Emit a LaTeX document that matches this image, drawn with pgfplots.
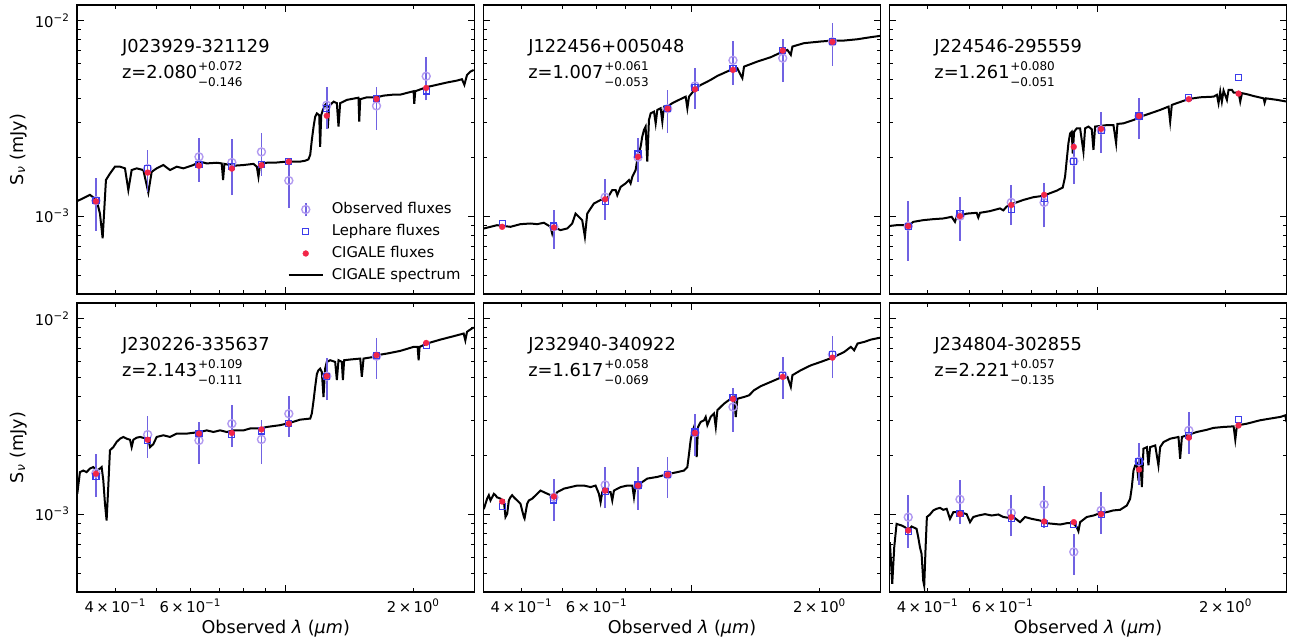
\documentclass[border=0pt]{standalone}
\usepackage{fontspec}
\setmainfont{DejaVu Sans}
\usepackage{pgfplots}
\pgfplotsset{compat=1.18}
\definecolor{obscol}{RGB}{178,155,240}
\definecolor{errcol}{RGB}{112,98,226}
\definecolor{lepcol}{RGB}{60,60,235}
\definecolor{cigcol}{RGB}{242,38,72}
\pgfdeclareplotmark{obsmark}{%
 \pgfsetstrokecolor{errcol}\pgfsetlinewidth{0.8pt}%
 \pgfpathmoveto{\pgfqpoint{0pt}{-3.4pt}}\pgfpathlineto{\pgfqpoint{0pt}{3.4pt}}\pgfusepathqstroke
 \pgfsetstrokecolor{obscol}\pgfsetlinewidth{0.7pt}%
 \pgfpathcircle{\pgfpointorigin}{2pt}\pgfusepathqstroke}
\newcommand{\tickfont}{\fontsize{7.4}{8}\selectfont}
\newcommand{\labfont}{\fontsize{8.8}{10}\selectfont}
\newcommand{\txtfont}{\fontsize{8.9}{10}\selectfont}
\newcommand{\sups}[2]{\kern0.4pt\raisebox{-4.3pt}{\fontsize{6.0}{8.1}\selectfont\begin{tabular}[b]{@{}l@{}}#1\\#2\end{tabular}}}
\begin{document}
\begin{tikzpicture}
\path[use as bounding box] (0,0) rectangle (649pt,320.5pt);

% ---------------- Panel 1
\begin{axis}[xmode=log, ymode=log, scale only axis, width=198.75pt, height=144.5pt,
  at={(38.5pt,173.5pt)}, anchor=south west,
  xmin=0.325, xmax=2.78, ymin=4e-4, ymax=1.2e-2,
  xtick={1}, xticklabels={}, minor xtick={0.4,0.5,0.6,0.7,0.8,0.9,2},
  ytick={1e-3,1e-2}, yticklabels={10\textsuperscript{−3},10\textsuperscript{−2}},
  minor ytick={4e-4,5e-4,6e-4,7e-4,8e-4,9e-4,2e-3,3e-3,4e-3,5e-3,6e-3,7e-3,8e-3,9e-3},
  tick align=inside, major tick length=3.5pt, minor tick length=2pt,
  tick style={black, line width=0.5pt}, axis line style={line width=0.6pt},
  tick label style={font=\tickfont}, unbounded coords=jump,
  ylabel={S\textsubscript{\textit{ν}} (mJy)},
  ylabel style={at={(axis description cs:-0.148,0.5)}, anchor=center, font=\labfont},
  legend style={at={(0.529,0.318)}, anchor=north west, draw=none, fill=none, inner sep=0pt,
    font=\fontsize{7.4}{9}\selectfont, nodes={inner sep=0pt, text height=5.5pt, text depth=1.5pt},
    row sep=4pt, column sep=4pt},
  legend cell align=left]
\addplot[black, line width=1pt, forget plot] coordinates {(0.3243,1.19e-3) (0.3362,1.235e-3) (0.3485,1.285e-3) (0.3613,1.21e-3) (0.3679,1.03e-3) (0.3733,0.77e-3) (0.3800,1.53e-3) (0.3883,1.65e-3) (0.3990,1.79e-3) (0.4100,1.79e-3) (0.4211,1.755e-3) (0.4288,1.36e-3) (0.4366,1.72e-3) (0.4486,1.755e-3) (0.4650,1.72e-3) (0.4777,1.32e-3) (0.4864,1.685e-3) (0.4997,1.755e-3) (0.5182,1.825e-3) (0.5370,1.72e-3) (0.5567,1.79e-3) (0.5772,1.755e-3) (0.6091,1.825e-3) (0.6316,1.90e-3) (0.6549,1.86e-3) (0.6913,1.875e-3) (0.7101,1.86e-3) (0.7153,1.53e-3) (0.7204,1.85e-3) (0.7563,1.81e-3) (0.7985,1.825e-3) (0.8427,1.85e-3) (0.8581,1.79e-3) (0.8658,1.59e-3) (0.8737,1.85e-3) (0.9057,1.875e-3) (0.9559,1.88e-3) (1.009,1.90e-3) (1.084,1.90e-3) (1.114,1.92e-3) (1.134,1.95e-3) (1.145,2.06e-3) (1.155,2.45e-3) (1.166,2.87e-3) (1.176,3.22e-3) (1.187,3.35e-3) (1.202,3.28e-3) (1.208,2.26e-3) (1.215,3.28e-3) (1.226,3.49e-3) (1.241,3.70e-3) (1.252,3.78e-3) (1.259,2.81e-3) (1.268,3.66e-3) (1.299,3.85e-3) (1.322,3.78e-3) (1.334,2.87e-3) (1.346,3.78e-3) (1.396,3.93e-3) (1.486,4.03e-3) (1.492,3.04e-3) (1.500,3.96e-3) (1.555,4.05e-3) (1.641,4.05e-3) (1.701,4.13e-3) (1.796,4.18e-3) (1.862,4.18e-3) (2.001,4.35e-3) (2.008,3.75e-3) (2.019,4.35e-3) (2.151,4.57e-3) (2.229,4.65e-3) (2.396,4.82e-3) (2.529,4.93e-3) (2.598,5.01e-3) (2.632,4.69e-3) (2.670,5.27e-3) (2.719,5.48e-3) (2.768,5.59e-3)};
\addplot[errcol, line width=0.8pt, forget plot] coordinates {(0.360,0.84e-3) (0.360,1.56e-3) (0.360,nan) (0.476,1.33e-3) (0.476,2.17e-3) (0.476,nan) (0.628,1.50e-3) (0.628,2.52e-3) (0.628,nan) (0.750,1.28e-3) (0.750,2.48e-3) (0.750,nan) (0.880,1.61e-3) (0.880,2.65e-3) (0.880,nan) (1.020,1.10e-3) (1.020,1.94e-3) (1.020,nan) (1.252,2.79e-3) (1.252,4.59e-3) (1.252,nan) (1.638,2.76e-3) (1.638,4.56e-3) (1.638,nan) (2.142,3.91e-3) (2.142,6.47e-3)};
\addplot[only marks, mark=obsmark, obscol] coordinates {(0.360,1.20e-3) (0.476,1.75e-3) (0.628,2.01e-3) (0.750,1.88e-3) (0.880,2.13e-3) (1.020,1.52e-3) (1.252,3.69e-3) (1.638,3.66e-3) (2.142,5.19e-3)};
\addlegendentry{Observed fluxes}
\addplot[only marks, mark=square, mark size=1.5pt, lepcol, mark options={line width=0.6pt}] coordinates {(0.360,1.20e-3) (0.476,1.75e-3) (0.628,1.84e-3) (0.750,1.79e-3) (0.880,1.84e-3) (1.020,1.91e-3) (1.252,3.55e-3) (1.638,3.99e-3) (2.142,4.36e-3)};
\addlegendentry{Lephare fluxes}
\addplot[only marks, mark=*, mark size=1.5pt, cigcol, mark options={fill=cigcol, draw=cigcol, line width=0.1pt}] coordinates {(0.360,1.19e-3) (0.476,1.67e-3) (0.628,1.81e-3) (0.750,1.75e-3) (0.880,1.82e-3) (1.020,1.90e-3) (1.252,3.26e-3) (1.638,3.97e-3) (2.142,4.52e-3)};
\addlegendentry{CIGALE fluxes}
\addlegendimage{black, line width=1pt}
\addlegendentry{CIGALE spectrum}
\node[anchor=base west, font=\txtfont] at (rel axis cs:0.0957,0.837) {J023929-321129};
\node[anchor=base west, font=\txtfont] at (rel axis cs:0.0957,0.747) {z=2.080\sups{+0.072}{−0.146}};
\end{axis}

% ---------------- Panel 2
\begin{axis}[xmode=log, ymode=log, scale only axis, width=198.75pt, height=144.5pt,
  at={(241.6pt,173.5pt)}, anchor=south west,
  xmin=0.325, xmax=2.78, ymin=4e-4, ymax=1.2e-2,
  xtick={1}, xticklabels={}, minor xtick={0.4,0.5,0.6,0.7,0.8,0.9,2},
  ytick={1e-3,1e-2}, yticklabels={},
  minor ytick={4e-4,5e-4,6e-4,7e-4,8e-4,9e-4,2e-3,3e-3,4e-3,5e-3,6e-3,7e-3,8e-3,9e-3},
  tick align=inside, major tick length=3.5pt, minor tick length=2pt,
  tick style={black, line width=0.5pt}, axis line style={line width=0.6pt},
  tick label style={font=\tickfont}, unbounded coords=jump]
\addplot[black, line width=1pt] coordinates {(0.326,0.865e-3) (0.338,0.882e-3) (0.350,0.899e-3) (0.3766,0.882e-3) (0.3975,0.910e-3) (0.4196,0.917e-3) (0.4350,0.910e-3) (0.4510,0.925e-3) (0.4675,0.882e-3) (0.4717,0.815e-3) (0.4760,0.882e-3) (0.4934,0.848e-3) (0.5115,0.865e-3) (0.5255,0.917e-3) (0.5351,1.03e-3) (0.5448,0.992e-3) (0.5547,0.954e-3) (0.5628,0.784e-3) (0.5700,1.03e-3) (0.5804,1.095e-3) (0.5909,1.16e-3) (0.6126,1.21e-3) (0.6350,1.23e-3) (0.6525,1.36e-3) (0.6644,1.36e-3) (0.6704,1.28e-3) (0.6826,1.41e-3) (0.7012,1.47e-3) (0.7140,1.53e-3) (0.7204,1.47e-3) (0.7271,1.59e-3) (0.7401,1.72e-3) (0.7468,1.94e-3) (0.7536,2.09e-3) (0.7604,2.26e-3) (0.7673,2.55e-3) (0.7742,2.76e-3) (0.7812,2.87e-3) (0.7883,1.90e-3) (0.7955,3.10e-3) (0.8027,3.35e-3) (0.8175,3.42e-3) (0.8248,2.98e-3) (0.8322,3.49e-3) (0.8472,3.56e-3) (0.8550,3.04e-3) (0.8627,3.63e-3) (0.8784,3.63e-3) (0.9024,3.78e-3) (0.9355,3.93e-3) (0.9698,4.08e-3) (0.9786,3.56e-3) (0.9874,4.08e-3) (1.0237,4.50e-3) (1.0517,4.68e-3) (1.110,4.97e-3) (1.151,5.21e-3) (1.237,5.59e-3) (1.282,5.70e-3) (1.317,5.07e-3) (1.329,5.81e-3) (1.429,6.17e-3) (1.535,6.49e-3) (1.621,6.86e-3) (1.680,7.07e-3) (1.711,6.67e-3) (1.726,7.36e-3) (1.838,7.66e-3) (2.012,7.81e-3) (2.143,7.90e-3) (2.282,7.90e-3) (2.453,8.02e-3) (2.636,8.22e-3) (2.78,8.35e-3)};
\addplot[errcol, line width=0.8pt] coordinates {(0.476,0.68e-3) (0.476,1.08e-3) (0.476,nan) (0.628,0.96e-3) (0.628,1.54e-3) (0.628,nan) (0.750,1.50e-3) (0.750,2.50e-3) (0.750,nan) (0.880,2.66e-3) (0.880,4.42e-3) (0.880,nan) (1.020,3.52e-3) (1.020,5.74e-3) (1.020,nan) (1.252,4.69e-3) (1.252,7.83e-3) (1.252,nan) (1.638,4.84e-3) (1.638,8.00e-3) (1.638,nan) (2.142,5.87e-3) (2.142,9.69e-3)};
\addplot[only marks, mark=obsmark, obscol] coordinates {(0.476,0.882e-3) (0.628,1.25e-3) (0.750,2.00e-3) (0.880,3.54e-3) (1.020,4.63e-3) (1.252,6.26e-3) (1.638,6.42e-3) (2.142,7.78e-3)};
\addplot[only marks, mark=square, mark size=1.5pt, lepcol, mark options={line width=0.6pt}] coordinates {(0.360,0.917e-3) (0.476,0.89e-3) (0.628,1.19e-3) (0.750,2.08e-3) (0.880,3.54e-3) (1.020,4.55e-3) (1.252,5.66e-3) (1.638,7.02e-3) (2.142,7.78e-3)};
\addplot[only marks, mark=*, mark size=1.5pt, cigcol, mark options={fill=cigcol, draw=cigcol, line width=0.1pt}] coordinates {(0.360,0.882e-3) (0.476,0.875e-3) (0.628,1.22e-3) (0.750,2.01e-3) (0.880,3.54e-3) (1.020,4.45e-3) (1.252,5.59e-3) (1.638,7.02e-3) (2.142,7.78e-3)};
\node[anchor=base west, font=\txtfont] at (rel axis cs:0.0957,0.837) {J122456+005048};
\node[anchor=base west, font=\txtfont] at (rel axis cs:0.0957,0.747) {z=1.007\sups{+0.061}{−0.053}};
\end{axis}

% ---------------- Panel 3
\begin{axis}[xmode=log, ymode=log, scale only axis, width=198.75pt, height=144.5pt,
  at={(444.65pt,173.5pt)}, anchor=south west,
  xmin=0.325, xmax=2.78, ymin=4e-4, ymax=1.2e-2,
  xtick={1}, xticklabels={}, minor xtick={0.4,0.5,0.6,0.7,0.8,0.9,2},
  ytick={1e-3,1e-2}, yticklabels={},
  minor ytick={4e-4,5e-4,6e-4,7e-4,8e-4,9e-4,2e-3,3e-3,4e-3,5e-3,6e-3,7e-3,8e-3,9e-3},
  tick align=inside, major tick length=3.5pt, minor tick length=2pt,
  tick style={black, line width=0.5pt}, axis line style={line width=0.6pt},
  tick label style={font=\tickfont}, unbounded coords=jump]
\addplot[black, line width=1pt] coordinates {(0.3243,0.890e-3) (0.338,0.899e-3) (0.3613,0.899e-3) (0.370,0.935e-3) (0.3904,0.954e-3) (0.4121,0.965e-3) (0.4350,0.973e-3) (0.4550,0.992e-3) (0.4633,0.935e-3) (0.4675,0.992e-3) (0.4934,1.03e-3) (0.5210,1.040e-3) (0.5255,0.984e-3) (0.5304,1.040e-3) (0.5598,1.061e-3) (0.5909,1.095e-3) (0.6016,1.07e-3) (0.6126,1.12e-3) (0.6350,1.16e-3) (0.6704,1.21e-3) (0.7077,1.25e-3) (0.7468,1.27e-3) (0.7742,1.31e-3) (0.8027,1.35e-3) (0.8291,1.40e-3) (0.8396,1.59e-3) (0.8472,1.94e-3) (0.8550,2.36e-3) (0.8627,2.65e-3) (0.8705,2.70e-3) (0.8752,2.09e-3) (0.8815,2.70e-3) (0.8943,2.81e-3) (0.9106,2.81e-3) (0.9271,2.135e-3) (0.9355,2.81e-3) (0.9526,2.87e-3) (0.9698,2.78e-3) (0.9786,2.18e-3) (0.9874,2.87e-3) (1.0146,2.89e-3) (1.0517,2.92e-3) (1.0903,2.92e-3) (1.106,2.36e-3) (1.114,2.96e-3) (1.151,2.98e-3) (1.215,3.10e-3) (1.259,3.22e-3) (1.329,3.35e-3) (1.403,3.49e-3) (1.468,3.63e-3) (1.481,3.04e-3) (1.494,3.70e-3) (1.535,3.78e-3) (1.638,3.97e-3) (1.742,4.05e-3) (1.872,4.08e-3) (1.906,4.17e-3) (1.923,3.78e-3) (1.941,4.33e-3) (1.958,3.85e-3) (1.976,4.38e-3) (2.012,3.93e-3) (2.030,4.42e-3) (2.067,4.42e-3) (2.086,4.28e-3) (2.143,4.28e-3) (2.162,3.85e-3) (2.182,4.25e-3) (2.241,4.20e-3) (2.324,4.11e-3) (2.453,4.00e-3) (2.466,3.80e-3) (2.484,4.00e-3) (2.636,3.93e-3) (2.78,3.85e-3)};
\addplot[errcol, line width=0.8pt] coordinates {(0.360,0.59e-3) (0.360,1.19e-3) (0.360,nan) (0.476,0.75e-3) (0.476,1.25e-3) (0.476,nan) (0.628,0.90e-3) (0.628,1.45e-3) (0.628,nan) (0.750,0.875e-3) (0.750,1.475e-3) (0.750,nan) (0.880,1.46e-3) (0.880,2.36e-3) (0.880,nan) (1.020,2.10e-3) (1.020,3.42e-3) (1.020,nan) (1.252,2.47e-3) (1.252,4.03e-3)};
\addplot[only marks, mark=obsmark, obscol] coordinates {(0.360,0.889e-3) (0.476,1.0e-3) (0.628,1.175e-3) (0.750,1.175e-3) (0.880,1.91e-3) (1.020,2.76e-3) (1.252,3.25e-3)};
\addplot[only marks, mark=square, mark size=1.5pt, lepcol, mark options={line width=0.6pt}] coordinates {(0.360,0.889e-3) (0.476,1.03e-3) (0.628,1.085e-3) (0.750,1.225e-3) (0.880,1.91e-3) (1.020,2.74e-3) (1.252,3.25e-3) (1.638,4.05e-3) (2.142,5.13e-3)};
\addplot[only marks, mark=*, mark size=1.5pt, cigcol, mark options={fill=cigcol, draw=cigcol, line width=0.1pt}] coordinates {(0.360,0.889e-3) (0.476,1.0e-3) (0.628,1.14e-3) (0.750,1.285e-3) (0.880,2.26e-3) (1.020,2.79e-3) (1.252,3.25e-3) (1.638,3.96e-3) (2.142,4.23e-3)};
\node[anchor=base west, font=\txtfont] at (rel axis cs:0.0957,0.837) {J224546-295559};
\node[anchor=base west, font=\txtfont] at (rel axis cs:0.0957,0.747) {z=1.261\sups{+0.080}{−0.051}};
\end{axis}

% ---------------- Panel 4
\begin{axis}[xmode=log, ymode=log, scale only axis, width=198.75pt, height=144.5pt,
  at={(38.5pt,24.5pt)}, anchor=south west,
  xmin=0.325, xmax=2.78, ymin=4e-4, ymax=1.2e-2,
  xtick={1}, xticklabels={}, minor xtick={0.4,0.5,0.6,0.7,0.8,0.9,2},
  extra x ticks={0.4,0.6,2},
  extra x tick labels={4\,×\,10\textsuperscript{−1},6\,×\,10\textsuperscript{−1},2\,×\,10\textsuperscript{0}},
  extra x tick style={major tick length=2pt},
  ytick={1e-3,1e-2}, yticklabels={10\textsuperscript{−3},10\textsuperscript{−2}},
  minor ytick={4e-4,5e-4,6e-4,7e-4,8e-4,9e-4,2e-3,3e-3,4e-3,5e-3,6e-3,7e-3,8e-3,9e-3},
  tick align=inside, major tick length=3.5pt, minor tick length=2pt,
  tick style={black, line width=0.5pt}, axis line style={line width=0.6pt},
  tick label style={font=\tickfont}, unbounded coords=jump,
  ylabel={S\textsubscript{\textit{ν}} (mJy)},
  ylabel style={at={(axis description cs:-0.148,0.5)}, anchor=center, font=\labfont},
  xlabel={Observed \textit{λ} (\textit{μm})},
  xlabel style={at={(axis description cs:0.5,-0.142)}, anchor=base, font=\labfont}]
\addplot[black, line width=1pt] coordinates {(0.3255,1.27e-3) (0.3302,1.64e-3) (0.3362,1.67e-3) (0.3423,1.64e-3) (0.3485,1.71e-3) (0.3549,1.74e-3) (0.3613,1.67e-3) (0.3679,1.71e-3) (0.3713,1.74e-3) (0.3746,1.49e-3) (0.3780,1.13e-3) (0.3814,0.928e-3) (0.3848,1.375e-3) (0.3883,2.12e-3) (0.3954,2.20e-3) (0.4026,2.34e-3) (0.4100,2.43e-3) (0.4174,2.48e-3) (0.4250,2.43e-3) (0.4327,2.40e-3) (0.4366,2.20e-3) (0.4406,2.40e-3) (0.4486,2.46e-3) (0.4568,2.48e-3) (0.4734,2.43e-3) (0.4777,2.40e-3) (0.4821,2.20e-3) (0.4908,2.28e-3) (0.4997,2.48e-3) (0.5182,2.53e-3) (0.5370,2.48e-3) (0.5567,2.58e-3) (0.5877,2.58e-3) (0.6316,2.63e-3) (0.6549,2.68e-3) (0.6789,2.63e-3) (0.7039,2.68e-3) (0.7297,2.63e-3) (0.7563,2.68e-3) (0.7985,2.68e-3) (0.8277,2.74e-3) (0.8737,2.74e-3) (0.9057,2.79e-3) (0.9734,2.85e-3) (1.027,2.93e-3) (1.084,3.04e-3) (1.145,3.08e-3) (1.155,3.27e-3) (1.166,3.82e-3) (1.176,4.47e-3) (1.187,5.21e-3) (1.197,5.44e-3) (1.208,5.54e-3) (1.219,5.33e-3) (1.230,3.97e-3) (1.241,5.54e-3) (1.252,6.00e-3) (1.275,6.12e-3) (1.310,6.00e-3) (1.322,4.84e-3) (1.334,6.12e-3) (1.358,6.00e-3) (1.366,4.84e-3) (1.375,6.12e-3) (1.421,6.17e-3) (1.500,6.24e-3) (1.513,5.03e-3) (1.527,6.24e-3) (1.612,6.36e-3) (1.641,6.49e-3) (1.733,6.62e-3) (1.862,6.83e-3) (2.001,7.16e-3) (2.045,7.16e-3) (2.056,6.12e-3) (2.067,7.16e-3) (2.151,7.45e-3) (2.312,7.80e-3) (2.484,8.12e-3) (2.622,8.38e-3) (2.646,7.73e-3) (2.670,8.55e-3) (2.719,8.79e-3) (2.768,9.0e-3)};
\addplot[errcol, line width=0.8pt] coordinates {(0.360,1.22e-3) (0.360,2.02e-3) (0.360,nan) (0.476,1.94e-3) (0.476,3.16e-3) (0.476,nan) (0.628,1.80e-3) (0.628,2.96e-3) (0.628,nan) (0.750,2.20e-3) (0.750,3.60e-3) (0.750,nan) (0.880,1.80e-3) (0.880,3.02e-3) (0.880,nan) (1.020,2.48e-3) (1.020,4.04e-3) (1.020,nan) (1.252,3.83e-3) (1.252,6.31e-3) (1.252,nan) (1.638,4.92e-3) (1.638,7.92e-3)};
\addplot[only marks, mark=obsmark, obscol] coordinates {(0.360,1.62e-3) (0.476,2.55e-3) (0.628,2.38e-3) (0.750,2.90e-3) (0.880,2.41e-3) (1.020,3.26e-3) (1.252,5.07e-3) (1.638,6.42e-3)};
\addplot[only marks, mark=square, mark size=1.5pt, lepcol, mark options={line width=0.6pt}] coordinates {(0.360,1.56e-3) (0.476,2.38e-3) (0.628,2.58e-3) (0.750,2.56e-3) (0.880,2.66e-3) (1.020,2.90e-3) (1.252,5.03e-3) (1.638,6.49e-3) (2.142,7.30e-3)};
\addplot[only marks, mark=*, mark size=1.5pt, cigcol, mark options={fill=cigcol, draw=cigcol, line width=0.1pt}] coordinates {(0.360,1.61e-3) (0.476,2.40e-3) (0.628,2.58e-3) (0.750,2.60e-3) (0.880,2.71e-3) (1.020,2.90e-3) (1.252,5.07e-3) (1.638,6.49e-3) (2.142,7.50e-3)};
\node[anchor=base west, font=\txtfont] at (rel axis cs:0.0957,0.837) {J230226-335637};
\node[anchor=base west, font=\txtfont] at (rel axis cs:0.0957,0.747) {z=2.143\sups{+0.109}{−0.111}};
\end{axis}

% ---------------- Panel 5
\begin{axis}[xmode=log, ymode=log, scale only axis, width=198.75pt, height=144.5pt,
  at={(241.6pt,24.5pt)}, anchor=south west,
  xmin=0.325, xmax=2.78, ymin=4e-4, ymax=1.2e-2,
  xtick={1}, xticklabels={}, minor xtick={0.4,0.5,0.6,0.7,0.8,0.9,2},
  extra x ticks={0.4,0.6,2},
  extra x tick labels={4\,×\,10\textsuperscript{−1},6\,×\,10\textsuperscript{−1},2\,×\,10\textsuperscript{0}},
  extra x tick style={major tick length=2pt},
  ytick={1e-3,1e-2}, yticklabels={},
  minor ytick={4e-4,5e-4,6e-4,7e-4,8e-4,9e-4,2e-3,3e-3,4e-3,5e-3,6e-3,7e-3,8e-3,9e-3},
  tick align=inside, major tick length=3.5pt, minor tick length=2pt,
  tick style={black, line width=0.5pt}, axis line style={line width=0.6pt},
  tick label style={font=\tickfont}, unbounded coords=jump,
  xlabel={Observed \textit{λ} (\textit{μm})},
  xlabel style={at={(axis description cs:0.5,-0.142)}, anchor=base, font=\labfont}]
\addplot[black, line width=1pt] coordinates {(0.326,1.06e-3) (0.3320,1.20e-3) (0.3350,1.25e-3) (0.338,1.175e-3) (0.3411,1.22e-3) (0.3442,1.27e-3) (0.3473,1.25e-3) (0.350,1.22e-3) (0.3568,1.20e-3) (0.3600,1.175e-3) (0.3633,1.175e-3) (0.3666,0.967e-3) (0.370,1.005e-3) (0.3733,1.175e-3) (0.3766,1.22e-3) (0.3800,1.25e-3) (0.3835,1.22e-3) (0.3904,1.175e-3) (0.3975,1.13e-3) (0.4048,0.967e-3) (0.4063,0.95e-3) (0.4121,1.13e-3) (0.4159,1.175e-3) (0.4234,1.20e-3) (0.4350,1.27e-3) (0.4430,1.32e-3) (0.4510,1.295e-3) (0.4675,1.25e-3) (0.4760,1.22e-3) (0.4846,1.295e-3) (0.5025,1.35e-3) (0.5210,1.375e-3) (0.5400,1.40e-3) (0.5598,1.40e-3) (0.5804,1.375e-3) (0.5962,1.40e-3) (0.6071,1.27e-3) (0.6126,1.15e-3) (0.6181,1.295e-3) (0.6237,1.35e-3) (0.6350,1.295e-3) (0.6466,1.295e-3) (0.6525,1.175e-3) (0.6584,1.32e-3) (0.6826,1.375e-3) (0.7077,1.40e-3) (0.7271,1.40e-3) (0.7337,1.22e-3) (0.7401,1.40e-3) (0.7604,1.44e-3) (0.7883,1.52e-3) (0.8322,1.55e-3) (0.8784,1.60e-3) (0.9271,1.64e-3) (0.9612,1.67e-3) (0.9786,1.74e-3) (0.9874,2.03e-3) (0.9964,2.40e-3) (1.0054,2.63e-3) (1.0146,2.79e-3) (1.0237,2.40e-3) (1.0293,1.96e-3) (1.0367,2.79e-3) (1.0517,2.96e-3) (1.071,3.02e-3) (1.0805,3.14e-3) (1.0903,2.85e-3) (1.110,3.14e-3) (1.130,3.27e-3) (1.141,2.79e-3) (1.151,3.40e-3) (1.193,3.67e-3) (1.237,3.89e-3) (1.259,3.97e-3) (1.271,3.14e-3) (1.282,3.89e-3) (1.329,3.97e-3) (1.366,4.05e-3) (1.403,4.30e-3) (1.455,4.51e-3) (1.535,4.74e-3) (1.621,4.99e-3) (1.680,5.03e-3) (1.711,4.47e-3) (1.726,5.13e-3) (1.806,5.44e-3) (1.906,5.76e-3) (2.012,6.00e-3) (2.143,6.31e-3) (2.201,6.49e-3) (2.282,6.74e-3) (2.366,7.16e-3) (2.409,6.88e-3) (2.453,7.45e-3) (2.543,7.59e-3) (2.636,7.80e-3) (2.78,7.99e-3)};
\addplot[errcol, line width=0.8pt] coordinates {(0.476,0.92e-3) (0.476,1.52e-3) (0.476,nan) (0.628,1.07e-3) (0.628,1.75e-3) (0.628,nan) (0.750,1.05e-3) (0.750,1.75e-3) (0.750,nan) (0.880,1.21e-3) (0.880,1.97e-3) (0.880,nan) (1.020,1.98e-3) (1.020,3.24e-3) (1.020,nan) (1.252,2.63e-3) (1.252,4.43e-3) (1.252,nan) (1.638,3.89e-3) (1.638,6.37e-3) (1.638,nan) (2.142,4.96e-3) (2.142,8.12e-3)};
\addplot[only marks, mark=obsmark, obscol] coordinates {(0.476,1.22e-3) (0.628,1.41e-3) (0.750,1.40e-3) (0.880,1.59e-3) (1.020,2.61e-3) (1.252,3.53e-3) (1.638,5.13e-3) (2.142,6.54e-3)};
\addplot[only marks, mark=square, mark size=1.5pt, lepcol, mark options={line width=0.6pt}] coordinates {(0.360,1.094e-3) (0.476,1.18e-3) (0.628,1.31e-3) (0.750,1.41e-3) (0.880,1.59e-3) (1.020,2.63e-3) (1.252,3.93e-3) (1.638,5.13e-3) (2.142,6.54e-3)};
\addplot[only marks, mark=*, mark size=1.5pt, cigcol, mark options={fill=cigcol, draw=cigcol, line width=0.1pt}] coordinates {(0.360,1.16e-3) (0.476,1.23e-3) (0.628,1.32e-3) (0.750,1.40e-3) (0.880,1.59e-3) (1.020,2.60e-3) (1.252,3.88e-3) (1.638,5.03e-3) (2.142,6.31e-3)};
\node[anchor=base west, font=\txtfont] at (rel axis cs:0.0957,0.837) {J232940-340922};
\node[anchor=base west, font=\txtfont] at (rel axis cs:0.0957,0.747) {z=1.617\sups{+0.058}{−0.069}};
\end{axis}

% ---------------- Panel 6
\begin{axis}[xmode=log, ymode=log, scale only axis, width=198.75pt, height=144.5pt,
  at={(444.65pt,24.5pt)}, anchor=south west,
  xmin=0.325, xmax=2.78, ymin=4e-4, ymax=1.2e-2,
  xtick={1}, xticklabels={}, minor xtick={0.4,0.5,0.6,0.7,0.8,0.9,2},
  extra x ticks={0.4,0.6,2},
  extra x tick labels={4\,×\,10\textsuperscript{−1},6\,×\,10\textsuperscript{−1},2\,×\,10\textsuperscript{0}},
  extra x tick style={major tick length=2pt},
  ytick={1e-3,1e-2}, yticklabels={},
  minor ytick={4e-4,5e-4,6e-4,7e-4,8e-4,9e-4,2e-3,3e-3,4e-3,5e-3,6e-3,7e-3,8e-3,9e-3},
  tick align=inside, major tick length=3.5pt, minor tick length=2pt,
  tick style={black, line width=0.5pt}, axis line style={line width=0.6pt},
  tick label style={font=\tickfont}, unbounded coords=jump,
  xlabel={Observed \textit{λ} (\textit{μm})},
  xlabel style={at={(axis description cs:0.5,-0.142)}, anchor=base, font=\labfont}]
\addplot[black, line width=1pt] coordinates {(0.326,0.719e-3) (0.3302,0.440e-3) (0.3338,0.678e-3) (0.338,0.892e-3) (0.3473,0.875e-3) (0.3536,0.858e-3) (0.360,0.825e-3) (0.3666,0.865e-3) (0.3766,0.841e-3) (0.3800,0.762e-3) (0.3835,0.678e-3) (0.3869,0.627e-3) (0.3904,0.457e-3) (0.3925,0.431e-3) (0.3954,0.678e-3) (0.3982,0.967e-3) (0.4048,0.996e-3) (0.4121,1.045e-3) (0.4196,1.065e-3) (0.4273,1.077e-3) (0.4350,1.052e-3) (0.4430,1.065e-3) (0.4510,0.946e-3) (0.4592,1.024e-3) (0.4760,1.024e-3) (0.4934,1.0e-3) (0.5025,0.910e-3) (0.5115,0.967e-3) (0.5255,0.984e-3) (0.5448,1.0e-3) (0.5649,0.984e-3) (0.5856,0.996e-3) (0.6016,0.967e-3) (0.6181,0.958e-3) (0.6350,0.967e-3) (0.6584,0.910e-3) (0.6764,0.967e-3) (0.7012,0.946e-3) (0.7337,0.928e-3) (0.7604,0.899e-3) (0.7883,0.892e-3) (0.8175,0.885e-3) (0.8472,0.899e-3) (0.8784,0.899e-3) (0.8943,0.858e-3) (0.9024,0.818e-3) (0.9106,0.910e-3) (0.9440,0.967e-3) (0.9786,0.984e-3) (1.0146,1.012e-3) (1.0517,1.024e-3) (1.0903,1.045e-3) (1.130,1.052e-3) (1.172,1.107e-3) (1.193,1.198e-3) (1.204,1.375e-3) (1.215,1.674e-3) (1.226,1.775e-3) (1.237,1.81e-3) (1.248,1.487e-3) (1.259,1.96e-3) (1.271,1.375e-3) (1.282,2.16e-3) (1.306,2.20e-3) (1.317,1.775e-3) (1.329,2.20e-3) (1.366,2.245e-3) (1.390,1.775e-3) (1.403,2.20e-3) (1.429,2.335e-3) (1.481,2.43e-3) (1.549,2.48e-3) (1.563,1.92e-3) (1.578,2.48e-3) (1.621,2.53e-3) (1.711,2.63e-3) (1.806,2.70e-3) (1.872,2.76e-3) (1.976,2.79e-3) (2.086,2.81e-3) (2.105,2.40e-3) (2.124,2.84e-3) (2.241,2.90e-3) (2.409,3.02e-3) (2.543,3.08e-3) (2.685,3.14e-3) (2.758,3.20e-3) (2.775,2.96e-3)};
\addplot[errcol, line width=0.8pt] coordinates {(0.360,0.675e-3) (0.360,1.255e-3) (0.360,nan) (0.476,0.89e-3) (0.476,1.49e-3) (0.476,nan) (0.628,0.77e-3) (0.628,1.26e-3) (0.628,nan) (0.750,0.85e-3) (0.750,1.39e-3) (0.750,nan) (0.880,0.489e-3) (0.880,0.793e-3) (0.880,nan) (1.020,0.79e-3) (1.020,1.30e-3) (1.020,nan) (1.252,1.41e-3) (1.252,2.31e-3) (1.252,nan) (1.638,2.03e-3) (1.638,3.33e-3)};
\addplot[only marks, mark=obsmark, obscol] coordinates {(0.360,0.965e-3) (0.476,1.19e-3) (0.628,1.016e-3) (0.750,1.12e-3) (0.880,0.641e-3) (1.020,1.045e-3) (1.252,1.86e-3) (1.638,2.68e-3)};
\addplot[only marks, mark=square, mark size=1.5pt, lepcol, mark options={line width=0.6pt}] coordinates {(0.360,0.815e-3) (0.476,1.01e-3) (0.628,0.95e-3) (0.750,0.892e-3) (0.880,0.885e-3) (1.020,1.0e-3) (1.252,1.85e-3) (1.638,2.53e-3) (2.142,3.04e-3)};
\addplot[only marks, mark=*, mark size=1.5pt, cigcol, mark options={fill=cigcol, draw=cigcol, line width=0.1pt}] coordinates {(0.360,0.825e-3) (0.476,1.0e-3) (0.628,0.965e-3) (0.750,0.917e-3) (0.880,0.910e-3) (1.020,1.0e-3) (1.252,1.69e-3) (1.638,2.46e-3) (2.142,2.84e-3)};
\node[anchor=base west, font=\txtfont] at (rel axis cs:0.0957,0.837) {J234804-302855};
\node[anchor=base west, font=\txtfont] at (rel axis cs:0.0957,0.747) {z=2.221\sups{+0.057}{−0.135}};
\end{axis}
\end{tikzpicture}
\end{document}
